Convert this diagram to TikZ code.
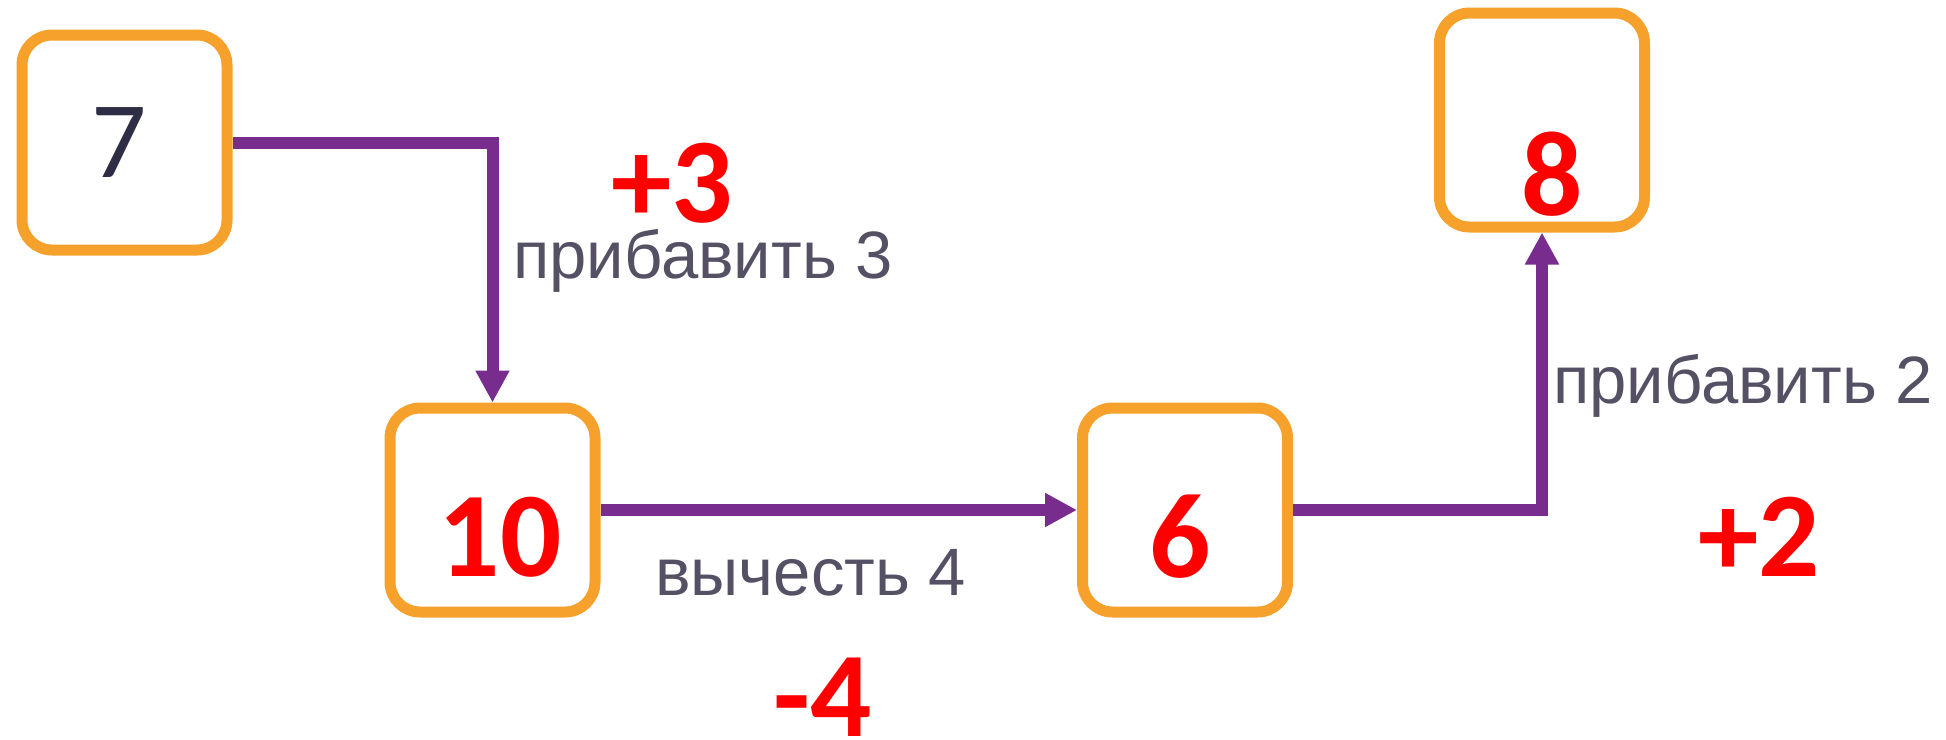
\documentclass[tikz,border=0pt]{standalone}
\usepackage{fontspec}
\setmainfont{Carlito}
\newfontfamily\labfont{Liberation Sans}
\usetikzlibrary{arrows.meta}
\definecolor{boxorange}{RGB}{247,161,45}
\definecolor{linepurple}{RGB}{120,45,142}
\definecolor{numred}{RGB}{255,0,0}
\definecolor{labgray}{RGB}{85,80,100}
\definecolor{darknum}{RGB}{45,45,70}
\begin{document}
\begin{tikzpicture}[x=1pt,y=-1pt,
  numbox/.style={draw=boxorange, line width=11pt, rounded corners=30pt, minimum width=205pt, inner sep=0pt, fill=white},
  rednum/.style={font=\fontsize{121}{121}\selectfont\bfseries, text=numred, inner sep=0pt},
  oplabel/.style={font=\labfont\fontsize{67}{67}\selectfont, text=labgray, inner sep=0pt, anchor=base west},
  conn/.style={draw=linepurple, line width=12pt, -{Triangle[length=32pt,width=32pt]}}
]
\useasboundingbox (0,0) rectangle (1946,739);
% boxes
\node[numbox, minimum height=215pt] (n7) at (124.5,142.5) {};
\node[numbox, minimum height=204pt] (n10) at (492.5,510) {};
\node[numbox, minimum height=204pt] (n6) at (1185,510) {};
\node[numbox, minimum height=214pt] (n8) at (1542,120) {};
% numbers
\node[font=\fontsize{109}{109}\selectfont, text=darknum, inner sep=0pt] (t7) at (119,143) {7};
\node[rednum] (t10) at (500,537) {10};
\node[rednum] (t6) at (1180,537) {6};
\node[rednum] (t8) at (1552,174) {8};
% connectors
\draw[conn] (n7.east) -| (n10.north);
\draw[conn] (n10.east) -- (n6.west);
\draw[conn] (n6.east) -| (n8.south);
% operation labels
\node[oplabel] (l1) at (513,278) {прибавить 3};
\node[oplabel] (l2) at (655,595) {вычесть 4};
\node[oplabel] (l3) at (1553,403) {прибавить 2};
% red annotations
\node[rednum] (a1) at (672,183) {+3};
\node[rednum] (a2) at (823,697) {-4};
\node[rednum] (a3) at (1759,537) {+2};
\end{tikzpicture}
\end{document}
